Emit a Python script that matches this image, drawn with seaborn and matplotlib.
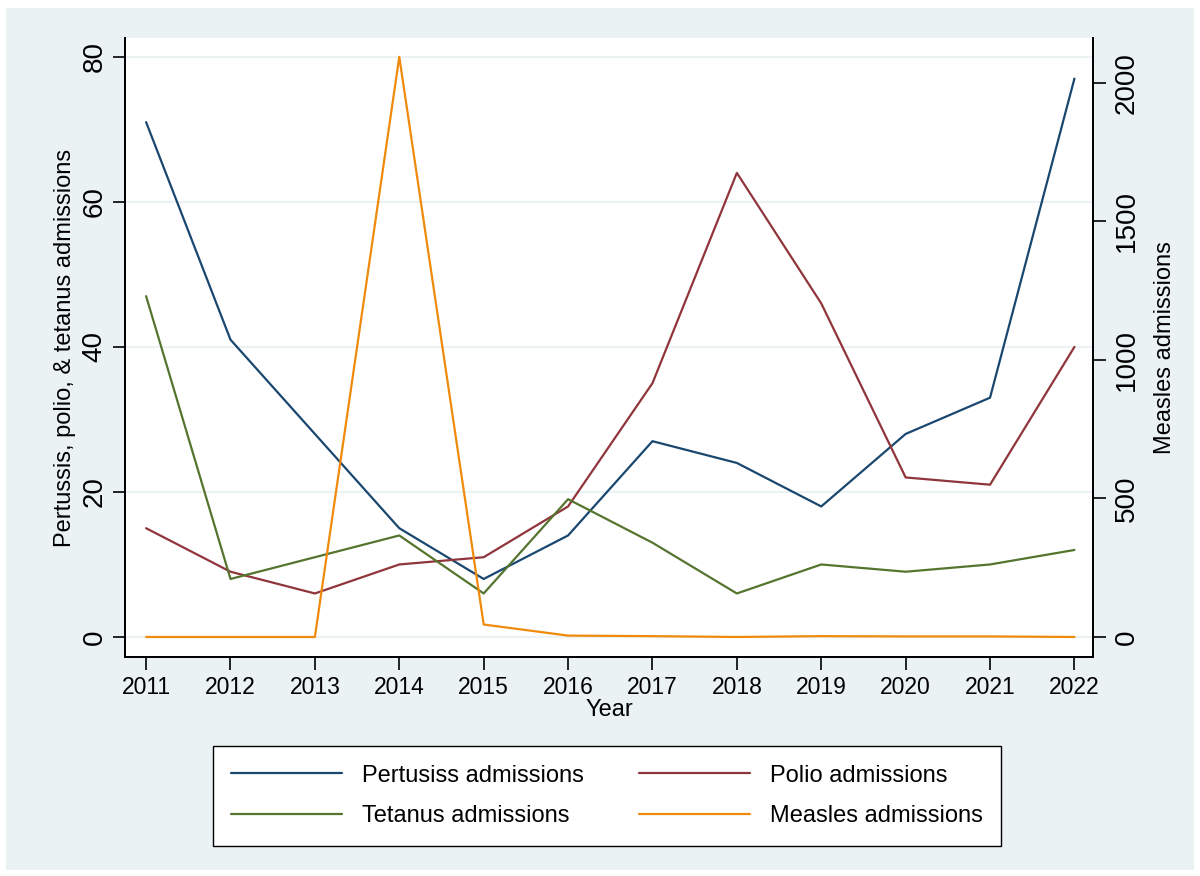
import pandas as pd
import numpy as np
import seaborn as sns
import matplotlib.pyplot as plt
from matplotlib.patches import Rectangle
from matplotlib.lines import Line2D

# Data
years = [2011, 2012, 2013, 2014, 2015, 2016, 2017, 2018, 2019, 2020, 2021, 2022]
pertussis = [71, 41, 28, 15, 8, 14, 27, 24, 18, 28, 33, 77]
polio = [15, 9, 6, 10, 11, 18, 35, 64, 46, 22, 21, 40]
tetanus = [47, 8, 11, 14, 6, 19, 13, 6, 10, 9, 10, 12]
measles = [0, 0, 0, 2093, 45, 5, 3, 0, 3, 2, 2, 0]

labels = ["Pertusiss admissions", "Polio admissions", "Tetanus admissions", "Measles admissions"]
colors = ["#1A476F", "#90353B", "#55752F", "#F08A0C"]
bg = "#EAF2F3"

sns.set_style("white")
plt.rcParams['font.family'] = ['Liberation Sans', 'DejaVu Sans']
plt.rcParams['text.color'] = 'black'
plt.rcParams['axes.labelcolor'] = 'black'
plt.rcParams['xtick.color'] = 'black'
plt.rcParams['ytick.color'] = 'black'

left_df = pd.DataFrame({
    "Year": years * 3,
    "value": pertussis + polio + tetanus,
    "series": [labels[0]] * 12 + [labels[1]] * 12 + [labels[2]] * 12,
})
right_df = pd.DataFrame({"Year": years, "value": measles})

fig = plt.figure(figsize=(12, 8.76), dpi=100)
fig.patch.set_facecolor("white")
fig.patches.append(Rectangle((6 / 1200, 1 - 870 / 876), 1188 / 1200, 862 / 876,
                             transform=fig.transFigure, facecolor=bg, edgecolor="none", zorder=-10))

ax = fig.add_axes([125 / 1200, 1 - 657 / 876, 968 / 1200, 619 / 876])
ax.set_facecolor("white")
sns.lineplot(data=left_df, x="Year", y="value", hue="series",
             palette=dict(zip(labels[:3], colors[:3])), linewidth=1.6, ax=ax, legend=False)

ax2 = ax.twinx()
sns.lineplot(data=right_df, x="Year", y="value", color=colors[3], linewidth=1.6, ax=ax2, legend=False)

# axis limits (left 0..80 and right 0..2000 share the same baseline)
ax.set_ylim(-2.76, 82.6)
ax2.set_ylim(-2.76 * 2093 / 80, 82.6 * 2093 / 80)
ax.set_xlim(2010.75, 2022.22)

ax.set_yticks([0, 20, 40, 60, 80])
ax2.set_yticks([0, 500, 1000, 1500, 2000])
ax.set_xticks(years)
ax.yaxis.grid(True, color=bg, linewidth=1.5)
ax.set_axisbelow(True)

for a in (ax, ax2):
    a.spines["top"].set_visible(False)
    for s in ("left", "right", "bottom"):
        a.spines[s].set_color("black")
        a.spines[s].set_linewidth(1.3)
    a.tick_params(axis="both", direction="out", length=9, width=1.2, color="black")

ax.tick_params(axis="y", labelsize=20, labelrotation=90, left=True)
ax.tick_params(axis="x", labelsize=16.5, bottom=True, pad=5)
ax2.tick_params(axis="y", labelsize=20, labelrotation=90, right=True, pad=6)
for t in ax.get_yticklabels() + ax2.get_yticklabels():
    t.set_va("center")

ax.set_xlabel("Year", fontsize=17, labelpad=0)
ax.set_ylabel("Pertussis, polio, & tetanus admissions", fontsize=17, labelpad=4)
ax2.set_ylabel("Measles admissions", fontsize=17, labelpad=10)

handles = [Line2D([], [], color=c, linewidth=1.6) for c in colors]
order = [0, 2, 1, 3]
leg = fig.legend([handles[i] for i in order], [labels[i] for i in order],
                 ncol=2, loc="center", bbox_to_anchor=(607 / 1200, 1 - 796 / 876),
                 fontsize=17, frameon=True, fancybox=False, handlelength=4.7,
                 columnspacing=2.3, handletextpad=0.85, borderpad=0.8, labelspacing=0.8,
                 framealpha=1)
leg.get_frame().set_edgecolor("black")
leg.get_frame().set_linewidth(1.0)
leg.get_frame().set_facecolor("white")

fig.savefig("out.png", dpi=100, facecolor=fig.get_facecolor())
